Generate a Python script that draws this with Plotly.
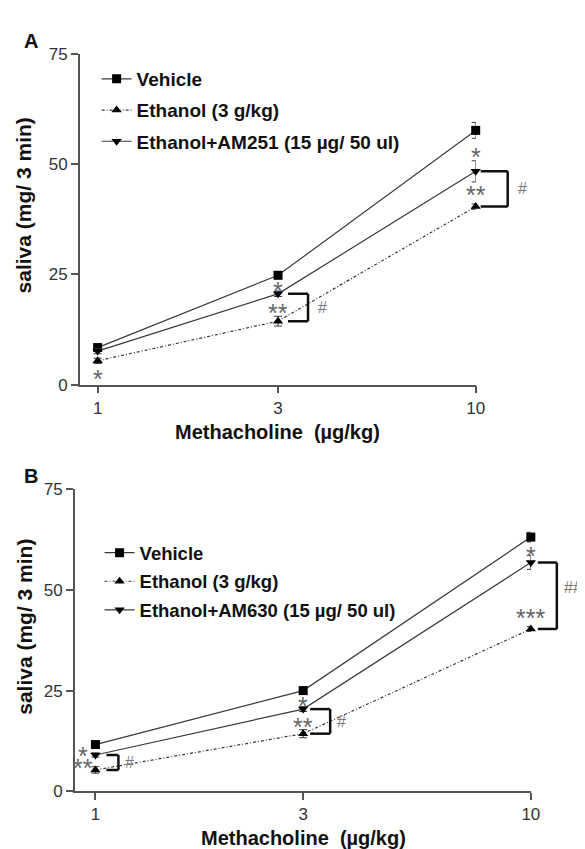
import math
import plotly.graph_objects as go

# ---------------- data ----------------
doses = [1, 3, 10]
dose_labels = ["1", "3", "10"]
y_tick_vals = [0, 25, 50, 75]
y_tick_text = ["0", "25", "50", "75"]

series_names_a = ["Vehicle", "Ethanol (3 g/kg)", "Ethanol+AM251 (15 µg/ 50 ul)"]
series_names_b = ["Vehicle", "Ethanol (3 g/kg)", "Ethanol+AM630 (15 µg/ 50 ul)"]

a_vehicle = [8.4, 24.8, 57.7]
a_vehicle_err = [0.6, 0.6, 1.8]
a_ethanol = [5.4, 14.4, 40.4]
a_ethanol_err = [0.6, 1.1, 0.6]
a_am251 = [7.6, 20.6, 48.4]
a_am251_err = [0.6, 0.6, 2.4]

b_vehicle = [11.6, 25.0, 63.1]
b_vehicle_err = [0.5, 0.6, 1.2]
b_ethanol = [5.3, 14.3, 40.3]
b_ethanol_err = [0.8, 1.0, 0.6]
b_am630 = [9.0, 20.4, 56.8]
b_am630_err = [0.5, 0.6, 1.7]

# significance marks (text per dose)
a_star_upper = ["", "*", "*"]
a_star_lower = ["*", "**", "**"]
a_hash = ["", "#", "#"]
b_star_upper = ["*", "*", "*"]
b_star_lower = ["**", "**", "***"]
b_hash = ["#", "#", "###"]

# ---------------- style ----------------
LINE_C = "#3a3a3a"
TXT = "#111111"
FONT = "Arial, 'Liberation Sans', sans-serif"
W, H = 585, 849
X_RANGE = [-0.047, 1.0]
A_XDOM = [73 / W, 475 / W]
B_XDOM = [68 / W, 531 / W]

fig = go.Figure()

def add_series(xa, ya, vals, errs, name, symbol, dash, legend, group):
    fig.add_trace(go.Scatter(
        x=doses, y=vals, name=name, mode="lines+markers",
        xaxis=xa, yaxis=ya, legend=legend, legendgroup=group,
        line=dict(color=LINE_C, width=1.2, dash=dash),
        marker=dict(symbol=symbol, size=9, color="#000000"),
        error_y=dict(type="data", array=errs, visible=True,
                     color=LINE_C, thickness=1, width=4),
        cliponaxis=False,
    ))

DOT = "3px,2px,1px,2px"
add_series("x", "y", a_vehicle, a_vehicle_err, series_names_a[0], "square", "solid", "legend", "a1")
add_series("x", "y", a_ethanol, a_ethanol_err, series_names_a[1], "triangle-up", DOT, "legend", "a2")
add_series("x", "y", a_am251, a_am251_err, series_names_a[2], "triangle-down", "solid", "legend", "a3")
add_series("x2", "y2", b_vehicle, b_vehicle_err, series_names_b[0], "square", "solid", "legend2", "b1")
add_series("x2", "y2", b_ethanol, b_ethanol_err, series_names_b[1], "triangle-up", DOT, "legend2", "b2")
add_series("x2", "y2", b_am630, b_am630_err, series_names_b[2], "triangle-down", "solid", "legend2", "b3")

annotations = []
shapes = []

def star(xr, yr, x, y, text, xshift=0):
    annotations.append(dict(
        xref=xr, yref=yr, x=math.log10(x), y=y, text=text, showarrow=False,
        xshift=xshift, yshift=-6,
        font=dict(family=FONT, size=25, color="#666666")))

def hash_mark(xr, yr, x, y, text, xshift):
    annotations.append(dict(
        xref=xr, yref=yr, x=math.log10(x), y=y, text=text, showarrow=False,
        xanchor="left", xshift=xshift,
        font=dict(family=FONT, size=16, color="#777777")))

def paper_x(dom, d):
    # position of dose d on a log axis with range X_RANGE inside domain dom
    f = (math.log10(d) - X_RANGE[0]) / (X_RANGE[1] - X_RANGE[0])
    return dom[0] + f * (dom[1] - dom[0])

def bracket(dom, yr, x, ytop, ybot, p0, p1):
    common = dict(xref="paper", yref=yr, xsizemode="pixel", xanchor=paper_x(dom, x),
                  line=dict(color="#111111", width=2.5), type="line")
    shapes.append(dict(x0=p0, x1=p1, y0=ytop, y1=ytop, **common))
    shapes.append(dict(x0=p1, x1=p1, y0=ytop, y1=ybot, **common))
    shapes.append(dict(x0=p0, x1=p1, y0=ybot, y1=ybot, **common))

# panel A marks
for i, d in enumerate(doses):
    if a_star_upper[i]:
        star("x", "y", d, (a_vehicle[i] + a_am251[i]) / 2, a_star_upper[i])
    if i == 0:
        star("x", "y", d, a_ethanol[i] - 2.8, a_star_lower[i])
    else:
        star("x", "y", d, (a_am251[i] + a_ethanol[i]) / 2, a_star_lower[i])
    if a_hash[i]:
        p0, p1 = (10, 30) if i == 1 else (5, 32)
        bracket(A_XDOM, "y", d, a_am251[i], a_ethanol[i], p0, p1)
        hash_mark("x", "y", d, (a_am251[i] + a_ethanol[i]) / 2, a_hash[i], p1 + 8)

# panel B marks
for i, d in enumerate(doses):
    sh = -12 if i == 0 else 0
    star("x2", "y2", d, (b_vehicle[i] + b_am630[i]) / 2, b_star_upper[i], sh)
    if i == 2:
        star("x2", "y2", d, b_ethanol[i] + 4.2, b_star_lower[i], sh)
    else:
        star("x2", "y2", d, (b_am630[i] + b_ethanol[i]) / 2, b_star_lower[i], sh)
    p0, p1 = [(11, 23), (7, 27), (7, 26)][i]
    bracket(B_XDOM, "y2", d, b_am630[i], b_ethanol[i], p0, p1)
    hash_mark("x2", "y2", d, (b_am630[i] + b_ethanol[i]) / 2 + (2 if i == 2 else 0), b_hash[i], p1 + 5)

# text labels (panel letters, axis titles)
def ptext(x, y, text, size, bold=True, angle=0):
    annotations.append(dict(
        xref="paper", yref="paper", x=x / W, y=1 - y / H, text=text,
        showarrow=False, textangle=angle, xanchor="center", yanchor="middle",
        font=dict(family=FONT, size=size, color=TXT, weight="bold" if bold else "normal")))

ptext(23, 25, "A", 20)
ptext(23, 470, "B", 20)
ptext(16, 193, "saliva (mg/ 3 min)", 21, angle=-90)
ptext(16, 624, "saliva (mg/ 3 min)", 21, angle=-90)
ptext(274, 425, "Methacholine\u00a0 (µg/kg)", 20)
ptext(300, 840, "Methacholine\u00a0 (µg/kg)", 20)

# ---------------- axes ----------------
def xaxis_cfg(dom, anchor):
    return dict(domain=dom, anchor=anchor, type="log",
                range=X_RANGE, tickvals=doses, ticktext=dose_labels,
                showline=True, linecolor="#555555", linewidth=1.6,
                ticks="outside", ticklen=7, tickwidth=1.5, tickcolor="#555555",
                showgrid=False, zeroline=False,
                tickfont=dict(family=FONT, size=17, color="#333333"))

def yaxis_cfg(dom, anchor):
    return dict(domain=dom, anchor=anchor, range=[0, 75],
                tickvals=y_tick_vals, ticktext=y_tick_text,
                showline=True, linecolor="#555555", linewidth=1.6,
                ticks="outside", ticklen=7, tickwidth=1.5, tickcolor="#555555",
                showgrid=False, zeroline=False,
                tickfont=dict(family=FONT, size=17, color="#333333"))

fig.update_layout(
    width=W, height=H,
    margin=dict(l=0, r=0, t=0, b=0),
    paper_bgcolor="white", plot_bgcolor="white",
    xaxis=xaxis_cfg(A_XDOM, "y"),
    yaxis=yaxis_cfg([1 - 376 / H, 1 - 38 / H], "x"),
    xaxis2=xaxis_cfg(B_XDOM, "y2"),
    yaxis2=yaxis_cfg([1 - 792 / H, 1 - 483 / H], "x2"),
    legend=dict(x=90 / W, y=1 - 44 / H, xanchor="left", yanchor="top",
                bgcolor="rgba(0,0,0,0)", borderwidth=0, tracegroupgap=3.5,
                font=dict(family=FONT, size=19, color=TXT, weight="bold")),
    legend2=dict(x=93 / W, y=1 - 529 / H, xanchor="left", yanchor="top",
                 bgcolor="rgba(0,0,0,0)", borderwidth=0, tracegroupgap=1.5,
                 font=dict(family=FONT, size=18.5, color=TXT, weight="bold")),
    annotations=annotations,
    shapes=shapes,
    showlegend=True,
)

fig.write_html("out.html")
